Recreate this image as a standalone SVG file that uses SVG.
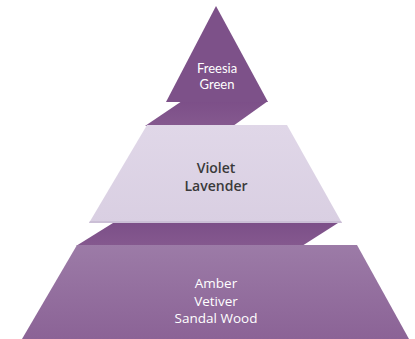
<svg xmlns="http://www.w3.org/2000/svg" width="415" height="339" viewBox="0 0 415 339">
  <defs>
    <linearGradient id="gBase" x1="0" y1="0" x2="0" y2="1">
      <stop offset="0" stop-color="#9c7ba7"/>
      <stop offset="1" stop-color="#8b6396"/>
    </linearGradient>
    <linearGradient id="gBand" x1="0" y1="0" x2="0" y2="1">
      <stop offset="0" stop-color="#7c4f88"/>
      <stop offset="1" stop-color="#85598f"/>
    </linearGradient>
    <linearGradient id="gMid" x1="0" y1="0" x2="0" y2="1">
      <stop offset="0" stop-color="#e0d7e8"/>
      <stop offset="1" stop-color="#d9cfe2"/>
    </linearGradient>
    <style>
      .lbl { font-family: "Open Sans", "DejaVu Sans", sans-serif; text-anchor: middle; }
      .top { font-family: "Lato", "Open Sans", sans-serif; font-size: 13px; }
      .light { fill: #ffffff; }
      .dark { fill: #3a3a3a; font-weight: 600; }
    </style>
  </defs>
  <rect width="415" height="339" fill="#ffffff"/>
  <g id="connectors">
    <polygon points="182,101 268,101 233,126 145,126" fill="url(#gBand)"/>
    <polygon points="113,223 338,223 302,246 76,246" fill="url(#gBand)"/>
  </g>
  <g id="node-top">
    <polygon points="216,6 268,102 166,102" fill="#7d5189"/>
    <text class="lbl top light" x="217" y="73">Freesia</text>
    <text class="lbl top light" x="217" y="88.5">Green</text>
  </g>
  <g id="node-middle">
    <polygon points="147,125 287,125 342,223 89,223" fill="url(#gMid)"/>
    <polygon points="90,221 341,221 342,223 89,223" fill="#cbbfd6"/>
    <text class="lbl dark" x="216" y="173" font-size="14">Violet</text>
    <text class="lbl dark" x="216" y="191" font-size="14">Lavender</text>
  </g>
  <g id="node-bottom">
    <polygon points="77,245 357,245 409,339 22,339" fill="url(#gBase)"/>
    <text class="lbl light" x="216" y="288" font-size="13.5">Amber</text>
    <text class="lbl light" x="216" y="306" font-size="13.5">Vetiver</text>
    <text class="lbl light" x="216" y="323" font-size="13.5">Sandal Wood</text>
  </g>
</svg>
